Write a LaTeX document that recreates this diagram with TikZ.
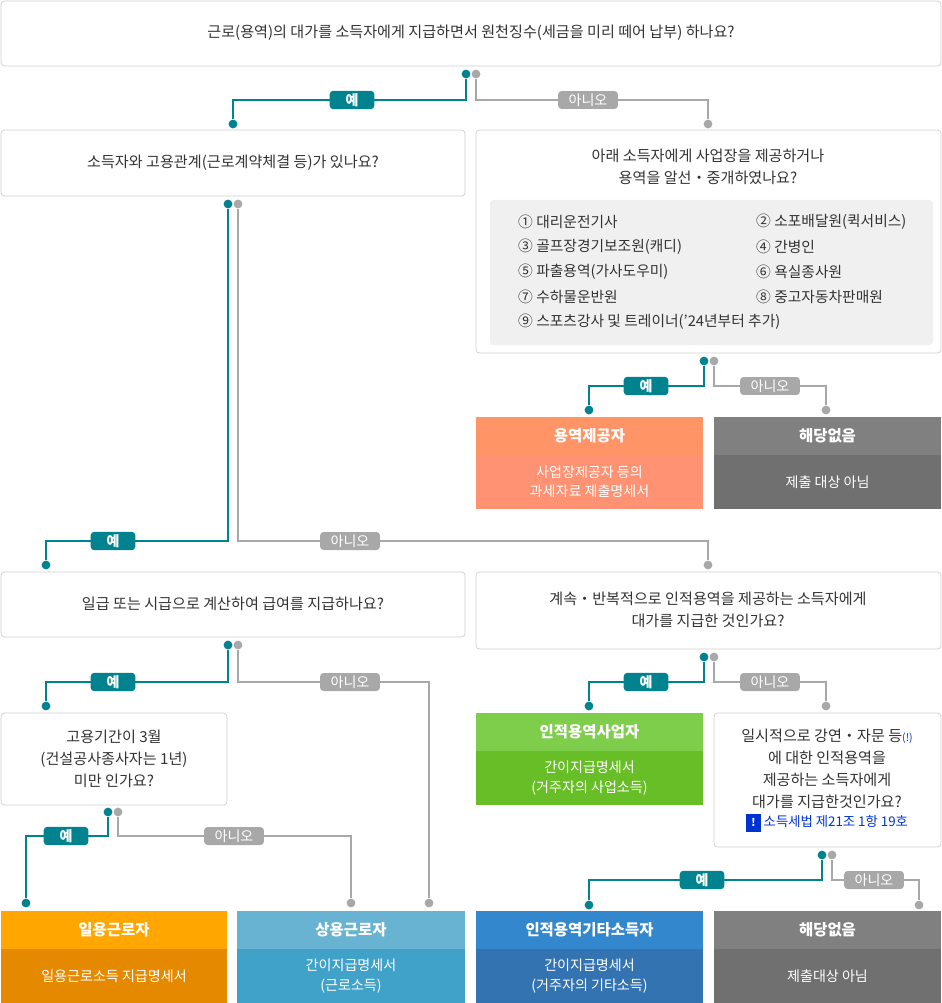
\documentclass[tikz,border=0pt]{standalone}
\usepackage{fontspec}
\setmainfont{Noto Sans CJK KR}
\usetikzlibrary{calc}
\definecolor{teal1}{HTML}{00838F}
\definecolor{grayl}{HTML}{A8A8A8}
\definecolor{boxline}{HTML}{CFCFCF}
\definecolor{txt}{HTML}{333333}
\tikzset{
  qbox/.style={draw=boxline,fill=white,rounded corners=2pt},
  qtext/.style={align=center,text=txt,font=\fontsize{8.6}{12.5}\selectfont},
  yes/.style={fill=teal1,text=white,rounded corners=2pt,inner xsep=9pt,inner ysep=1.5pt,font=\fontsize{8}{9}\selectfont\bfseries},
  no/.style={fill=grayl,text=white,rounded corners=2pt,inner xsep=6pt,inner ysep=1.5pt,font=\fontsize{8}{9}\selectfont},
  tline/.style={teal1,line width=0.7pt},
  gline/.style={grayl,line width=0.7pt},
  tdot/.style={circle,fill=teal1,inner sep=0pt,minimum size=5pt},
  gdot/.style={circle,fill=grayl,inner sep=0pt,minimum size=5pt},
  htext/.style={text=white,font=\fontsize{8.8}{11}\selectfont\bfseries},
  rtext/.style={text=white,align=center,font=\fontsize{8}{11}\selectfont},
}
\newcommand{\result}[7]{% x1,y1,x2,y2,top colour,bottom colour,name
  \fill[#6] (#1,#2) rectangle (#3,#4);
  \fill[#5] (#1,#2) rectangle (#3,#2+38);
  \node[htext] (#7h) at ($(#1,#2+19)!0.5!(#3,#2+19)$) {};
  \coordinate (#7b) at ($(#1,#2+38)!0.5!(#3,#4)$);
}
\begin{document}
\begin{tikzpicture}[x=0.02cm,y=-0.02cm]
\useasboundingbox (0,0) rectangle (942,1003);
% question boxes
\draw[qbox] (1,1) rectangle (941,66);
\node[qtext] (q1) at (471,33) {근로(용역)의 대가를 소득자에게 지급하면서 원천징수(세금을 미리 떼어 납부) 하나요?};
\draw[qbox] (1,130) rectangle (465,196);
\node[qtext] (q2) at (233,163) {소득자와 고용관계(근로계약체결 등)가 있나요?};
\draw[qbox] (476,130) rectangle (941,353);
\node[qtext] (q3) at (708,167) {아래 소득자에게 사업장을 제공하거나\\용역을 알선・중개하였나요?};
\fill[black!6,rounded corners=2pt] (490,200) rectangle (933,345);
\begin{scope}[every node/.style={anchor=west,text=txt,font=\fontsize{8.4}{10}\selectfont}]
\node (l1) at (512,222) {① 대리운전기사};
\node (l2) at (750,222) {② 소포배달원(퀵서비스)};
\node (l3) at (512,247) {③ 골프장경기보조원(캐디)};
\node (l4) at (750,247) {④ 간병인};
\node (l5) at (512,272) {⑤ 파출용역(가사도우미)};
\node (l6) at (750,272) {⑥ 욕실종사원};
\node (l7) at (512,297) {⑦ 수하물운반원};
\node (l8) at (750,297) {⑧ 중고자동차판매원};
\node (l9) at (512,322) {⑨ 스포츠강사 및 트레이너(’24년부터 추가)};
\end{scope}
\draw[qbox] (1,572) rectangle (465,637);
\node[qtext] (q4) at (233,604) {일급 또는 시급으로 계산하여 급여를 지급하나요?};
\draw[qbox] (476,572) rectangle (941,649);
\node[qtext] (q5) at (708,610) {계속・반복적으로 인적용역을 제공하는 소득자에게\\대가를 지급한 것인가요?};
\draw[qbox] (1,713) rectangle (227,805);
\node[qtext] (q6) at (114,759) {고용기간이 3월\\(건설공사종사자는 1년)\\미만 인가요?};
\draw[qbox] (714,713) rectangle (941,847);
\node[qtext] (q7) at (827,769) {일시적으로 강연・자문 등\textcolor{teal1!40!blue}{\fontsize{6}{6}\selectfont(!)}\\에 대한 인적용역을\\제공하는 소득자에게\\대가를 지급한것인가요?};
\node[text=blue!60!teal1,font=\fontsize{7.6}{9}\selectfont] (law) at (827,823)
  {\colorbox{blue!60!teal1}{\textcolor{white}{\fontsize{6}{6}\selectfont\bfseries !}} 소득세법 제21조 1항 19호};
% results
\result{476}{417}{703}{509}{red!40!orange!60!white}{red!55!orange!55!white}{r1}
\node[htext] at (r1h) {용역제공자};
\node[rtext] at (r1b) {사업장제공자 등의\\과세자료 제출명세서};
\result{714}{417}{941}{509}{black!50}{black!56}{r2}
\node[htext] at (r2h) {해당없음};
\node[rtext] at (r2b) {제출 대상 아님};
\result{476}{713}{703}{805}{green!45!olive!70!white}{green!40!olive!85!white}{r3}
\node[htext] at (r3h) {인적용역사업자};
\node[rtext] at (r3b) {간이지급명세서\\(거주자의 사업소득)};
\result{1}{911}{227}{1003}{orange!70!yellow}{orange!80!yellow!90!black}{r4}
\node[htext] at (r4h) {일용근로자};
\node[rtext] at (r4b) {일용근로소득 지급명세서};
\result{237}{911}{465}{1003}{cyan!50!teal!70!white}{cyan!55!teal!90!white}{r5}
\node[htext] at (r5h) {상용근로자};
\node[rtext] at (r5b) {간이지급명세서\\(근로소득)};
\result{476}{911}{703}{1003}{blue!45!cyan!60!gray}{blue!50!cyan!55!gray!90!black}{r6}
\node[htext] at (r6h) {인적용역기타소득자};
\node[rtext] at (r6b) {간이지급명세서\\(거주자의 기타소득)};
\result{714}{911}{941}{1003}{black!50}{black!56}{r7}
\node[htext] at (r7h) {해당없음};
\node[rtext] at (r7b) {제출대상 아님};
% connectors
\foreach \yx/\nx/\ys/\yb/\ye/\ya/\na/\ne/\ylx/\nlx in {
   466/476/74/100/233/124/708/124/352/588,
   228/238/204/541/46/565/708/565/113/350,
   704/714/361/386/589/410/826/410/646/770,
   228/238/645/682/46/706/429/903/113/350,
   704/714/657/682/589/706/826/706/646/770,
   108/118/812/836/26/903/351/903/66/234,
   822/832/855/880/589/905/919/905/702/874}{
  \node[tdot] (ys) at (\yx,\ys) {};
  \node[gdot] (ns) at (\nx,\ys) {};
  \node[tdot] (ye) at (\ye,\ya) {};
  \node[gdot] (ne) at (\na,\ne) {};
  \draw[tline] (ys) |- (ye |- 0,\yb) -- (ye);
  \draw[gline] (ns) |- (ne |- 0,\yb) -- (ne);
  \node[yes] (yl) at (\ylx,\yb) {예};
  \node[no] (nl) at (\nlx,\yb) {아니오};
}
\end{tikzpicture}
\end{document}
